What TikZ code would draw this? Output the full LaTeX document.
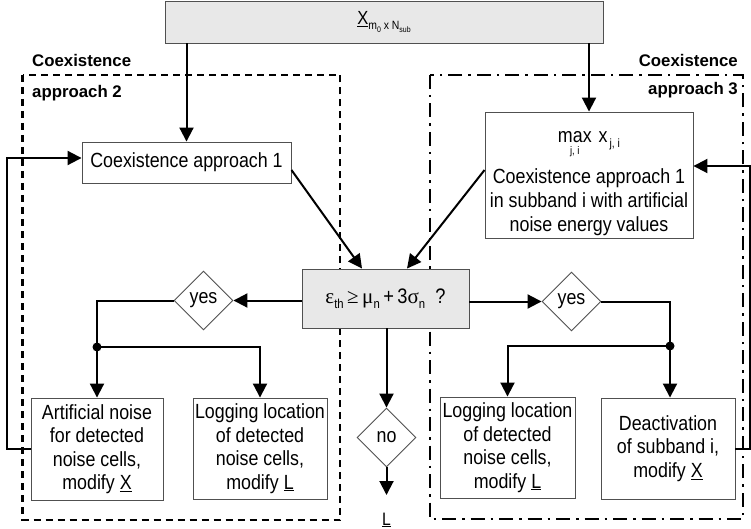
\documentclass[tikz,border=0pt]{standalone}
\usepackage{fontspec}
\setmainfont{Liberation Sans}[FakeStretch=0.87]
\newfontfamily\lblfont{Liberation Sans}
\newfontfamily\gkfont{Liberation Serif}
\usetikzlibrary{arrows.meta,shapes.geometric}
\newcommand\lo[2][12]{\raisebox{-0.45ex}{\fontsize{#1}{#1}\selectfont #2}}
\newcommand\maxsub{\setbox0=\hbox{max}\makebox[\wd0][c]{\raisebox{-12pt}{\fontsize{11}{11}\selectfont j, i}}\hspace{-\wd0}\box0}
\definecolor{boxgray}{HTML}{E8E8E8}
\definecolor{edge}{HTML}{505050}
\begin{document}
\begin{tikzpicture}[x=1pt,y=-1pt,
  box/.style={draw=edge, line width=0.9pt, fill=white, inner sep=0pt, align=center, font=\fontsize{20.5}{23.5}\selectfont},
  graybox/.style={box, fill=boxgray},
  dia/.style={draw=edge, line width=0.9pt, fill=white, shape=diamond, inner sep=0pt, minimum width=59pt, minimum height=59pt, font=\fontsize{20.5}{23.5}\selectfont},
  arr/.style={line width=2pt, -{Triangle[length=14pt,width=14pt]}},
  ln/.style={line width=2pt},
  lbl/.style={font=\lblfont\bfseries\fontsize{16.8}{16.8}\selectfont, inner sep=0pt},
  txt/.style={inner sep=0pt, align=center, font=\fontsize{20.5}{24}\selectfont},
  grp2/.style={line width=2.6pt, dash pattern=on 7pt off 5pt},
  grp3/.style={line width=2.6pt, dash pattern=on 14pt off 6pt on 2.5pt off 6pt}]
\useasboundingbox (0,0) rectangle (751,529);

% group frames
\draw[grp2] (22.5,75) rectangle (340,520);
\draw[grp3] (430,75) rectangle (743,519);
\node[lbl, anchor=base west] (c2a) at (32,67) {Coexistence};
\node[lbl, anchor=base west] (c2b) at (32,98) {approach 2};
\node[lbl, anchor=base east] (c3a) at (738,67) {Coexistence};
\node[lbl, anchor=base east] (c3b) at (738,95) {approach 3};

% nodes
\node[graybox, minimum width=438pt, minimum height=42pt, font=\fontsize{19}{19}\selectfont] (top) at (384,22) {\underline{X}\lo[12]{m\lo[8]{0} x N\lo[8]{sub}}};
\node[box, minimum width=209pt, minimum height=41pt] (co1) at (186.5,162.5) {Coexistence approach 1};
\node[box, minimum width=208pt, minimum height=126pt] (max) at (589,175) {};
\node[txt, anchor=base] (maxt) at (589,143) {\maxsub\hspace{7pt}x\lo{\,j, i}};
\node[txt] (maxb) at (589,202) {Coexistence approach 1\\in subband i with artificial\\noise energy values};
\node[graybox, minimum width=167pt, minimum height=59pt, font=\fontsize{21}{21}\selectfont] (cond) at (385.5,298.5)
  {{\gkfont ε}\lo[13]{th}\,{\gkfont ≥}\,{\gkfont μ}\lo[13]{n}\,+\,3{\gkfont σ}\lo[13]{n}\ \ ?};
\node[dia] (yesL) at (203.5,300.5) {yes};
\node[dia] (yesR) at (571.5,301.5) {yes};
\node[dia] (no) at (386.5,437.5) {no};
\node[box, minimum width=132pt, minimum height=102pt] (art) at (97,449) {Artificial noise\\for detected\\noise cells,\\modify \underline{X}};
\node[box, minimum width=134pt, minimum height=101pt] (logL) at (260,448.5) {Logging location\\of detected\\noise cells,\\modify \underline{L}};
\node[box, minimum width=135pt, minimum height=101pt] (logR) at (507.5,447.5) {Logging location\\of detected\\noise cells,\\modify \underline{L}};
\node[box, minimum width=134pt, minimum height=101pt] (deact) at (668,448.5) {Deactivation\\of subband i,\\modify \underline{X}};
\node[txt, anchor=base, font=\fontsize{18}{18}\selectfont] (L) at (386.5,525) {\underline{L}};

\coordinate (dL) at (97,347);
\coordinate (dR) at (670,346);
\coordinate (Lend) at (386.5,495);
\coordinate (rloop) at (750,0);

% connectors
\draw[arr] (top.south -| co1.north) -- (co1.north);
\draw[arr] (top.south -| max.north) -- (max.north);
\draw[arr] ([yshift=-7.5pt]co1.east) -- ([xshift=-23.5pt]cond.north);
\draw[arr] ([yshift=5pt]max.west) -- ([xshift=21.5pt]cond.north);
\draw[arr] (cond.west |- yesL.east) -- (yesL.east);
\draw[ln] (yesL.west) -| (dL);
\draw[arr] (dL) -- (art.north);
\draw[arr] (dL) -| (logL.north);
\fill (dL) circle (4.5pt);
\draw[arr] (art.west) -- ++(-24,0) |- ([yshift=4.5pt]co1.west);
\draw[arr] (cond.south -| no.north) -- (no.north);
\draw[arr] (no.south) -- (Lend);
\draw[arr] (cond.east |- yesR.west) -- (yesR.west);
\draw[ln] (yesR.east) -| (dR);
\draw[arr] (dR) -- (dR |- deact.north);
\draw[arr] (dR) -| (logR.north);
\fill (dR) circle (4.5pt);
\draw[arr] (deact.east) -- (deact.east -| rloop) |- ([yshift=9pt]max.east);
\end{tikzpicture}
\end{document}
